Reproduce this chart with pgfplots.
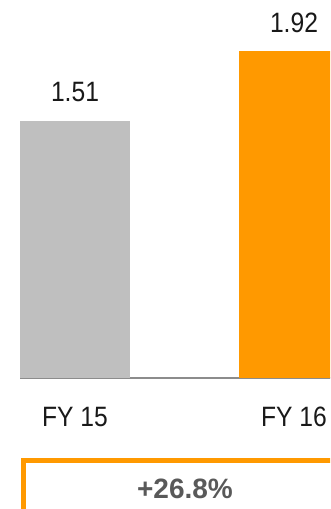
\documentclass[border=0pt]{standalone}
\usepackage{fontspec}
\setmainfont{Liberation Sans}
\newfontfamily\narrowfont{Liberation Sans}[FakeStretch=0.88]
\usepackage{pgfplots}
\pgfplotsset{compat=1.18}
\definecolor{bargray}{HTML}{BFBFBF}
\definecolor{barorange}{HTML}{FF9900}
\definecolor{axisgray}{HTML}{8C8C8C}
\definecolor{txtgray}{HTML}{595959}
\begin{document}
\begin{tikzpicture}
\useasboundingbox (0,-98.25pt) rectangle (247.5pt,283.5pt);
\clip (0,-98.25pt) rectangle (247.5pt,283.5pt);
\begin{axis}[
  at={(15pt,0pt)}, anchor=south west,
  scale only axis,
  width=246.75pt, height=283.5pt,
  xmin=-0.2511, xmax=1.2511,
  ymin=0, ymax=2.22,
  axis y line=none,
  axis x line*=bottom,
  axis line style={draw=axisgray, line width=1pt, -},
  xtick={0,1}, xticklabels={FY 15, FY 16},
  major tick length=0pt,
  xticklabel style={anchor=base, yshift=-36pt, font=\narrowfont\fontsize{21}{25}\selectfont, text=black!90},
  ytick=\empty,
  ybar, bar width=82.5pt,
  nodes near coords,
  nodes near coords align={anchor=base},
  every node near coord/.append style={yshift=14.25pt, font=\narrowfont\fontsize{21}{25}\selectfont, text=black!90},
  /pgf/number format/.cd, fixed, fixed zerofill, precision=2, assume math mode=true,
]
\addplot[fill=bargray, draw=none, bar shift=0pt] coordinates {(0,1.51)};
\addplot[fill=barorange, draw=none, bar shift=0pt] coordinates {(1,1.92)};
\end{axis}
\draw[barorange, line width=3.75pt, line join=miter] (17.25pt,-110pt) |- (260pt,-61.5pt);
\node[anchor=base, text=txtgray, font=\bfseries\fontsize{21}{25}\selectfont] at (138.75pt,-90pt) {+26.8\%};
\end{tikzpicture}
\end{document}
